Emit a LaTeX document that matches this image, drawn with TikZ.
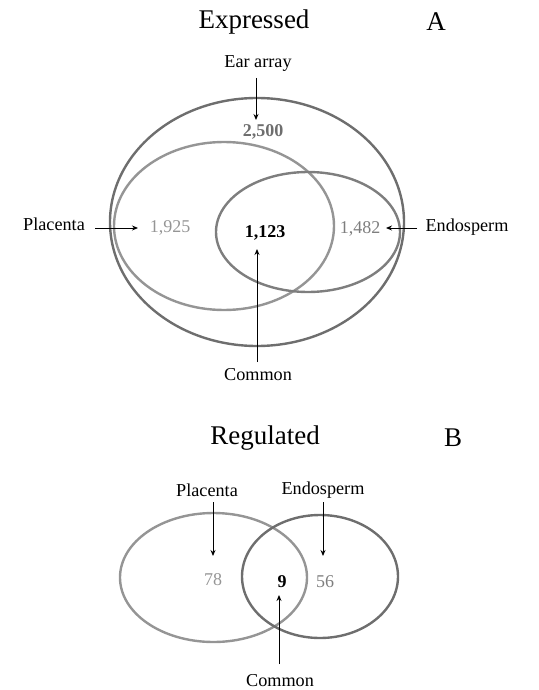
\documentclass[tikz,border=0pt]{standalone}
\usepackage{fontspec}
\setmainfont{Liberation Serif}
\usetikzlibrary{arrows.meta}
\definecolor{outerg}{HTML}{6E6E6E}
\definecolor{lightg}{HTML}{959595}
\definecolor{midg}{HTML}{7E7E7E}
\tikzset{
  ring/.style={line width=2.4pt},
  title/.style={font=\fontsize{27}{30}\selectfont, inner sep=0pt},
  lab/.style={font=\fontsize{18.2}{20}\selectfont, inner sep=0pt},
  num/.style={font=\fontsize{18}{20}\selectfont, inner sep=0pt},
  pointer/.style={line width=0.9pt, -{Stealth[length=6pt,width=5pt]}},
}
\begin{document}
\begin{tikzpicture}[x=1pt,y=-1pt]
\useasboundingbox (0,0) rectangle (538,690);
% Part A
\node[title] (tA) at (254,22) {Expressed};
\node[title] (lA) at (436,22) {A};
\draw[ring, outerg] (257,222) ellipse [x radius=147, y radius=124];
\draw[ring, lightg] (224,226) ellipse [x radius=110, y radius=84];
\draw[ring, midg] (308,232) ellipse [x radius=92, y radius=60];
\node[lab] (ear) at (258,64) {Ear array};
\node[num, font=\fontsize{18}{20}\selectfont\bfseries, text=outerg] (n2500) at (263,132) {2,500};
\coordinate (earS) at (256,78);
\coordinate (earE) at (256,120);
\draw[pointer] (earS) -- (earE);
\node[lab] (plA) at (54,224) {Placenta};
\node[num, text=lightg] (n1925) at (170,228) {1,925};
\coordinate (plS) at (95,228);
\coordinate (plE) at (138,228);
\draw[pointer] (plS) -- (plE);
\node[num, font=\fontsize{18}{20}\selectfont\bfseries] (n1123) at (265,233) {1,123};
\node[num, text=midg] (n1482) at (360,229) {1,482};
\node[lab] (enA) at (467,227) {Endosperm};
\coordinate (enS) at (417,228);
\coordinate (enE) at (386,228);
\draw[pointer] (enS) -- (enE);
\node[lab] (coA) at (258,375) {Common};
\coordinate (coS) at (257,362);
\coordinate (coE) at (257,249);
\draw[pointer] (coS) -- (coE);
% Part B
\node[title] (tB) at (265,438) {Regulated};
\node[title] (lB) at (453,438) {B};
\draw[ring, lightg] (213.5,577.5) ellipse [x radius=93.5, y radius=64.5];
\draw[ring, outerg] (320,576.5) ellipse [x radius=78, y radius=61.5];
\node[lab] (plB) at (207,490) {Placenta};
\node[lab] (enB) at (323,490) {Endosperm};
\coordinate (plBS) at (213,502);
\coordinate (plBE) at (213,556);
\draw[pointer] (plBS) -- (plBE);
\coordinate (enBS) at (323,502);
\coordinate (enBE) at (323,556);
\draw[pointer] (enBS) -- (enBE);
\node[num, text=lightg] (n78) at (213,580) {78};
\node[num, font=\fontsize{18}{20}\selectfont\bfseries] (n9) at (282,582) {9};
\node[num, text=midg] (n56) at (325,582) {56};
\node[lab] (coB) at (280,681) {Common};
\coordinate (coBS) at (279,664);
\coordinate (coBE) at (279,595);
\draw[pointer] (coBS) -- (coBE);
\end{tikzpicture}
\end{document}
